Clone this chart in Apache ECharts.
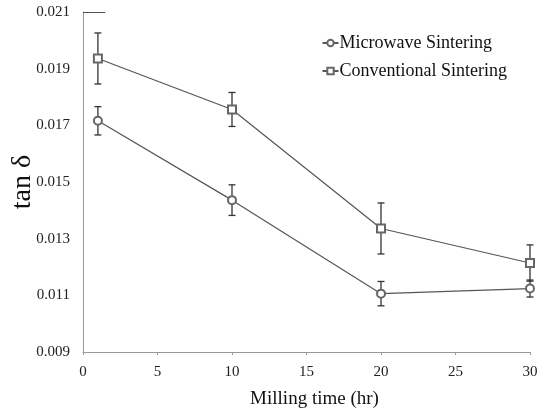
<!DOCTYPE html>
<html>
<head>
<meta charset="utf-8">
<script src="https://cdn.jsdelivr.net/npm/echarts@6/dist/echarts.min.js"></script>
<style>
html,body{margin:0;padding:0;background:#fff;}
#chart{width:542px;height:409px;}
</style>
</head>
<body>
<div id="chart"></div>
<script>
// milling time (hr)
var millingTime = [1, 10, 20, 30];
// tan delta values
var microwave = [0.01716, 0.01436, 0.01106, 0.01124];
var microwaveErr = [0.0005, 0.00054, 0.00043, 0.0003];
var conventional = [0.01936, 0.01756, 0.01336, 0.01214];
var conventionalErr = [0.0009, 0.0006, 0.0009, 0.00064];

var font = '"Liberation Serif", "DejaVu Serif", serif';

function pairs(xs, ys) {
	return xs.map(function (x, i) { return [x, ys[i]]; });
}
function errData(xs, ys, es) {
	return xs.map(function (x, i) { return [x, ys[i] - es[i], ys[i] + es[i]]; });
}

// error bar drawing: vertical line + two caps
function renderErr(params, api) {
	var lo = api.coord([api.value(0), api.value(1)]);
	var hi = api.coord([api.value(0), api.value(2)]);
	var w = 3.5;
	var st = { stroke: '#333', lineWidth: 1.3 };
	return {
		type: 'group',
		children: [
			{ type: 'line', shape: { x1: lo[0], y1: lo[1], x2: hi[0], y2: hi[1] }, style: st },
			{ type: 'line', shape: { x1: lo[0] - w, y1: lo[1], x2: lo[0] + w, y2: lo[1] }, style: st },
			{ type: 'line', shape: { x1: hi[0] - w, y1: hi[1], x2: hi[0] + w, y2: hi[1] }, style: st }
		]
	};
}

var chart = echarts.init(document.getElementById('chart'));
chart.setOption({
	animation: false,
	grid: { left: 83, right: 12, top: 12, bottom: 57, outerBoundsMode: 'none', containLabel: false },
	legend: {
		right: 30,
		top: 29,
		orient: 'vertical',
		itemGap: 10,
		itemWidth: 16,
		itemHeight: 8,
		data: ['Microwave Sintering', 'Conventional Sintering'],
		textStyle: { fontFamily: font, fontSize: 18, color: '#111', padding: [0, 0, 0, -4] }
	},
	xAxis: {
		type: 'value',
		min: 0,
		max: 30,
		interval: 5,
		name: 'Milling time (hr)',
		nameLocation: 'middle',
		nameGap: 38,
		nameMoveOverlap: false,
		nameTextStyle: { fontFamily: font, fontSize: 19, color: '#111', padding: [0, 0, 0, 16] },
		axisLine: { lineStyle: { color: '#999' } },
		axisTick: { length: 3, lineStyle: { color: '#999' } },
		axisLabel: { fontFamily: font, fontSize: 15, color: '#222', margin: 13 },
		splitLine: { show: false }
	},
	yAxis: {
		type: 'value',
		min: 0.009,
		max: 0.021,
		interval: 0.002,
		name: 'tan δ',
		nameLocation: 'middle',
		nameGap: 46,
		nameMoveOverlap: false,
		nameTextStyle: { fontFamily: font, fontSize: 28, color: '#111' },
		axisLine: { show: true, lineStyle: { color: '#999' } },
		axisTick: { show: false },
		axisLabel: {
			fontFamily: font, fontSize: 15, color: '#222', margin: 13,
			formatter: function (v) { return v.toFixed(3); }
		},
		splitLine: { show: false }
	},
	series: [
		{
			name: 'Microwave Sintering',
			type: 'line',
			data: pairs(millingTime, microwave),
			symbol: 'emptyCircle',
			symbolSize: 8,
			itemStyle: { color: '#666', borderWidth: 1.1 },
			lineStyle: { color: '#555', width: 1.2 },
			z: 3
		},
		{
			name: 'Conventional Sintering',
			type: 'line',
			data: pairs(millingTime, conventional),
			symbol: 'emptyRect',
			symbolSize: 8,
			itemStyle: { color: '#666', borderWidth: 1.1 },
			lineStyle: { color: '#555', width: 1.2 },
			markLine: {
				silent: true,
				symbol: 'none',
				label: { show: false },
				lineStyle: { color: '#555', width: 1, type: 'solid' },
				data: [[{ coord: [0, 0.021] }, { coord: [1.5, 0.021] }]]
			},
			z: 3
		},
		{
			type: 'custom',
			renderItem: renderErr,
			data: errData(millingTime, microwave, microwaveErr),
			encode: { x: 0, y: [1, 2] },
			z: 2
		},
		{
			type: 'custom',
			renderItem: renderErr,
			data: errData(millingTime, conventional, conventionalErr),
			encode: { x: 0, y: [1, 2] },
			z: 2
		}
	]
});
</script>
</body>
</html>
